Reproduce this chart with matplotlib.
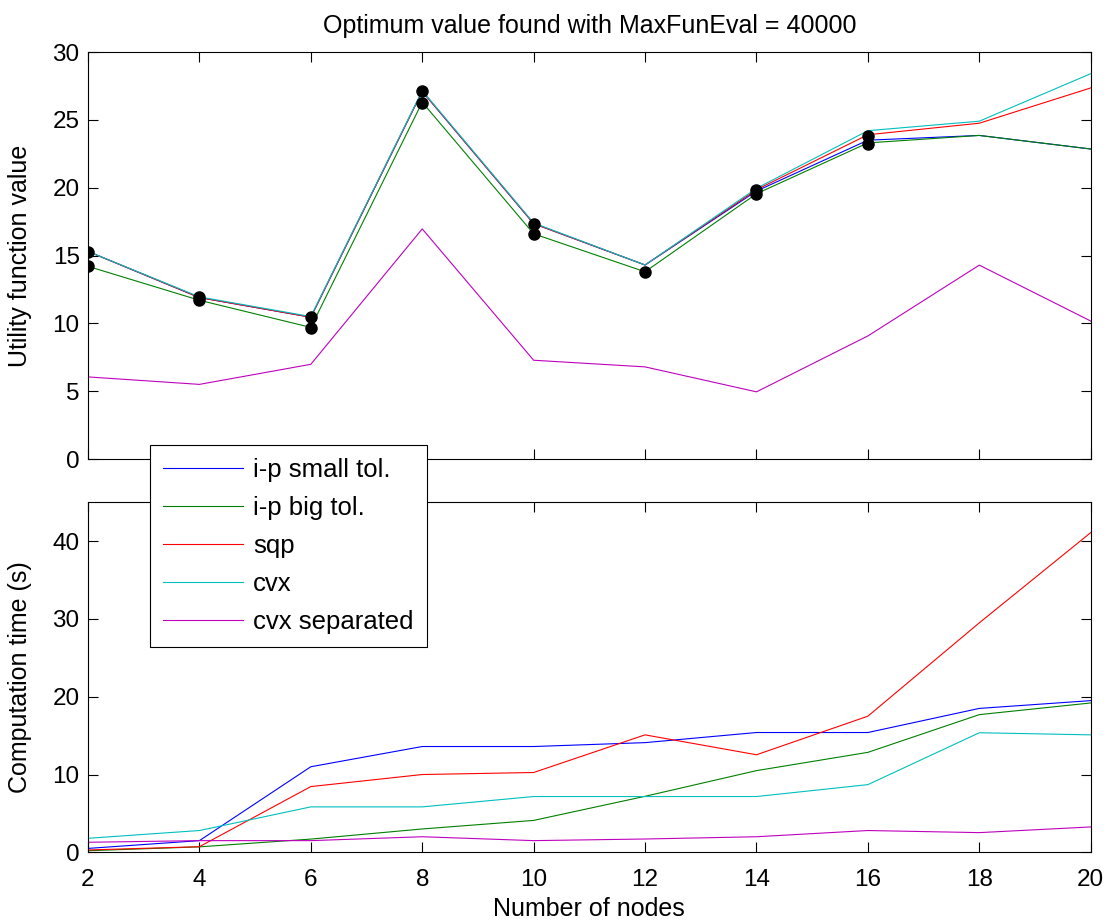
import matplotlib
matplotlib.use("Agg")
import matplotlib.pyplot as plt

plt.rcParams['font.family'] = ['Liberation Sans', 'DejaVu Sans']

nodes = [2, 4, 6, 8, 10, 12, 14, 16, 18, 20]
labels = ["i-p small tol.", "i-p big tol.", "sqp", "cvx", "cvx separated"]
colors = ["#0000ff", "#008000", "#ff0000", "#00bfbf", "#bf00bf"]

# utility function value (top)
util_small = [15.3, 11.9, 10.45, 27.1, 17.35, 14.3, 19.75, 23.5, 23.85, 22.85]
util_big = [14.2, 11.7, 9.7, 26.3, 16.6, 13.8, 19.55, 23.3, 23.85, 22.85]
util_sqp = [15.3, 11.9, 10.45, 27.1, 17.35, 14.3, 19.85, 23.9, 24.75, 27.35]
util_cvx = [15.3, 11.95, 10.5, 27.15, 17.4, 14.3, 19.95, 24.2, 24.9, 28.4]
util_sep = [6.05, 5.5, 6.98, 16.96, 7.28, 6.79, 4.95, 9.07, 14.29, 10.17]

# black dots
dot_x = [2, 2, 4, 4, 6, 6, 8, 8, 10, 10, 12, 14, 14, 16, 16]
dot_y = [15.27, 14.2, 11.93, 11.7, 10.46, 9.68, 27.15, 26.27, 17.33, 16.6,
         13.8, 19.85, 19.5, 23.8, 23.2]

# computation time (bottom)
time_small = [0.5, 1.5, 11.0, 13.6, 13.6, 14.1, 15.4, 15.4, 18.5, 19.5]
time_big = [0.2, 0.7, 1.7, 3.0, 4.1, 7.2, 10.5, 12.85, 17.7, 19.2]
time_sqp = [0.3, 0.72, 8.45, 10.0, 10.26, 15.1, 12.54, 17.5, 29.5, 41.1]
time_cvx = [1.8, 2.8, 5.84, 5.84, 7.17, 7.17, 7.17, 8.7, 15.37, 15.1]
time_sep = [1.29, 1.5, 1.5, 2.0, 1.5, 1.71, 2.0, 2.8, 2.53, 3.26]

W, H = 1110, 922
fig = plt.figure(figsize=(W / 100, H / 100), dpi=100)
ax1 = fig.add_axes([88 / W, 1 - 459 / H, 1002.7 / W, 407 / H])
ax2 = fig.add_axes([88 / W, 1 - 852.3 / H, 1002.7 / W, 350 / H])

fs = 18
handles = []
for ys, c, lab in zip([util_small, util_big, util_sqp, util_cvx, util_sep], colors, labels):
    h, = ax1.plot(nodes, ys, color=c, lw=0.8, label=lab)
    handles.append(h)
ax1.plot(dot_x, dot_y, 'o', color='black', ms=8, zorder=5)

for ys, c in zip([time_small, time_big, time_sqp, time_cvx, time_sep], colors):
    ax2.plot(nodes, ys, color=c, lw=0.8)

ax1.set_xlim(2, 20)
ax1.set_ylim(0, 30)
ax1.set_xticks(nodes)
ax1.set_xticklabels([])
ax1.set_yticks([0, 5, 10, 15, 20, 25, 30])
ax2.set_xlim(2, 20)
ax2.set_ylim(0, 45)
ax2.set_xticks(nodes)
ax2.set_yticks([0, 10, 20, 30, 40])

for ax in (ax1, ax2):
    ax.tick_params(direction='in', top=True, right=True, length=7, width=0.8,
                   labelsize=17.5, pad=6)
    ax.tick_params(axis='x', pad=12)
    for s in ax.spines.values():
        s.set_linewidth(0.8)
    ax.yaxis.set_label_coords(-0.056, 0.5)

ax1.set_title("Optimum value found with MaxFunEval = 40000", fontsize=fs, pad=14)
ax1.set_ylabel("Utility function value", fontsize=fs)
ax2.set_ylabel("Computation time (s)", fontsize=fs)
ax2.set_xlabel("Number of nodes", fontsize=fs, labelpad=4)

fig.legend(handles, labels, loc='upper left', bbox_to_anchor=(150 / W, 1 - 445 / H),
           bbox_transform=fig.transFigure, fontsize=18.5, fancybox=False,
           edgecolor='black', framealpha=1, borderaxespad=0, handlelength=3.1,
           handletextpad=0.42, labelspacing=0.55, borderpad=0.5)
fig.get_children()[-1].get_frame().set_linewidth(0.8)

fig.savefig("out.png", dpi=100)
